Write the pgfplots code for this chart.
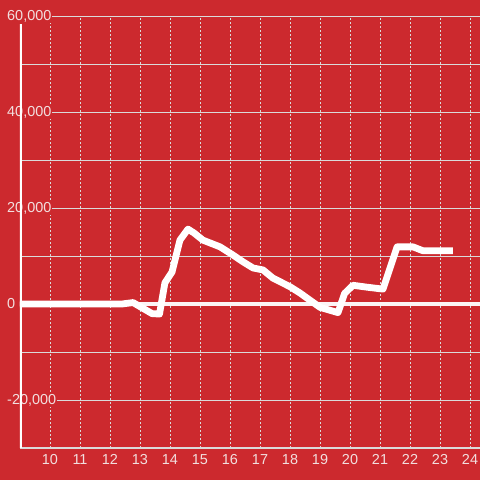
\documentclass[border=0pt]{standalone}
\usepackage{fontspec}
\setmainfont{Liberation Sans}
\usepackage{pgfplots}
\pgfplotsset{compat=1.18}
\definecolor{bgred}{RGB}{204,41,46}
\definecolor{gridc}{RGB}{218,218,218}
\definecolor{txtc}{RGB}{242,222,222}
\begin{document}
\begin{tikzpicture}
\fill[bgred] (-20bp,-32bp) rectangle (460bp,448bp);
\useasboundingbox (-20bp,-32bp) rectangle (460bp,448bp);
\begin{axis}[
  at={(0,0)}, anchor=south west,
  scale only axis, width=460bp, height=432bp,
  xmin=9, xmax=24.3333, ymin=-30000, ymax=60000,
  axis x line*=bottom, axis y line*=left,
  axis line style={-},
  x axis line style={gridc, line width=1bp},
  y axis line style={draw=none},
  scaled ticks=false,
  xtick={10,...,24}, ytick={-20000,0,20000,40000,60000},
  minor ytick={-30000,-10000,10000,30000,50000},
  major tick length=0pt, minor tick length=0pt,
  xmajorgrids, ymajorgrids, yminorgrids,
  major x grid style={gridc, line width=0.8bp, dash pattern=on 2bp off 2bp},
  major y grid style={gridc, line width=0.8bp},
  minor y grid style={gridc, line width=0.8bp},
  tick label style={font=\fontsize{14.5}{14.5}\selectfont, text=txtc},
  /pgf/number format/assume math mode=true,
  /pgf/number format/1000 sep={,},
  yticklabel style={anchor=west, xshift=-14bp, fill=bgred, inner sep=1bp},
  xticklabel style={yshift=-3bp},
]
\draw[white, line width=3bp] (axis cs:9,-30000) -- (axis cs:9,58300);
\draw[white!95!bgred, line width=4bp] (axis cs:8.9,0) -- (axis cs:24.3333,0);
\addplot[white, line width=6.8bp, line join=round, mark=none] coordinates {
(9,0) (12.4,0) (12.77,300) (13.4,-2000) (13.65,-2100)
(13.83,4400) (14.07,6700) (14.33,13300) (14.6,15600) (14.8,14800)
(15.1,13300) (15.67,11900) (16.1,10200) (16.43,8800) (16.77,7500)
(17.1,7100) (17.43,5400) (18,3600) (18.33,2300) (19,-700)
(19.6,-1800) (19.82,2200) (20.1,3900) (20.57,3500) (21.1,3100)
(21.57,11900) (22.1,11900) (22.43,11100) (23.43,11100)
};
\end{axis}
\end{tikzpicture}
\end{document}
